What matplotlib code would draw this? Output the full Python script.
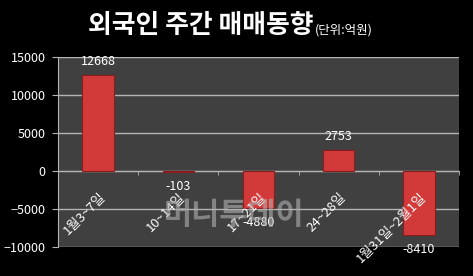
import matplotlib
matplotlib.use("Agg")
import matplotlib.pyplot as plt
from matplotlib.ticker import FixedLocator

plt.rcParams['font.family'] = ['Noto Sans CJK KR', 'DejaVu Sans']

# Data (unit: 억원)
weeks = ["1월3~7일", "10~14일", "17~21일", "24~28일", "1월31일~2월1일"]
net_buy = [12668, -103, -4880, 2753, -8410]
y_ticks = [-10000, -5000, 0, 5000, 10000, 15000]

fig = plt.figure(figsize=(4.73, 2.76), dpi=100, facecolor="black")
ax = fig.add_axes([0.1226, 0.1051, 0.8478, 0.6884])
ax.set_facecolor("#404040")

pos = list(range(len(weeks)))
bars = ax.bar(pos, net_buy, width=0.39, color="#d23a3a",
              edgecolor="#8c1c1c", linewidth=0.8, zorder=3)

ax.set_xlim(-0.5, len(weeks) - 0.5)
ax.set_ylim(-10000, 15000)
ax.set_yticks(y_ticks)
ax.yaxis.grid(True, color="#b4b4b4", linewidth=1, zorder=1)
ax.set_axisbelow(True)

# category axis sits on zero, like the Excel original
ax.spines['bottom'].set_position(('data', 0))
ax.spines['bottom'].set_color("#b4b4b4")
ax.spines['left'].set_color("#b4b4b4")
ax.spines['top'].set_visible(False)
ax.spines['right'].set_visible(False)

ax.set_xticks(pos)
ax.set_xticklabels([])
ax.xaxis.set_minor_locator(FixedLocator([p + 0.5 for p in range(-1, len(weeks))]))
ax.tick_params(axis="x", which="major", length=0)
ax.tick_params(axis="x", which="minor", length=3, color="#b4b4b4", direction="out")
ax.tick_params(axis="y", length=4, color="#b4b4b4", pad=5, labelsize=9, labelcolor="white")

# rotated category labels, hanging below the zero line
for p, w in zip(pos, weeks):
    ax.annotate(w, (p, 0), xytext=(0.5, -14), textcoords="offset points",
                rotation=45, rotation_mode="anchor", ha="right", va="top",
                fontsize=9.5, color="white", zorder=4)

for b, v in zip(bars, net_buy):
    off = 5 if v >= 0 else -6
    ax.annotate(f"{v}", (b.get_x() + b.get_width() / 2, v),
                xytext=(0, off), textcoords="offset points",
                ha="center", va="bottom" if v >= 0 else "top",
                fontsize=9, color="white", zorder=5)

# title
fig.text(0.186, 0.88, "외국인 주간 매매동향", fontsize=18.6, fontweight="bold",
         color="white", va="baseline", ha="left")
fig.text(0.665, 0.88, "(단위:억원)", fontsize=9, color="white",
         va="baseline", ha="left")

# watermark
ax.text(0.44, 0.17, "머니투데이", transform=ax.transAxes, fontsize=22,
        fontweight="bold", color="#b0b0b0", alpha=0.6,
        ha="center", va="center", zorder=6)

fig.savefig("out.png", dpi=100, facecolor="black")
